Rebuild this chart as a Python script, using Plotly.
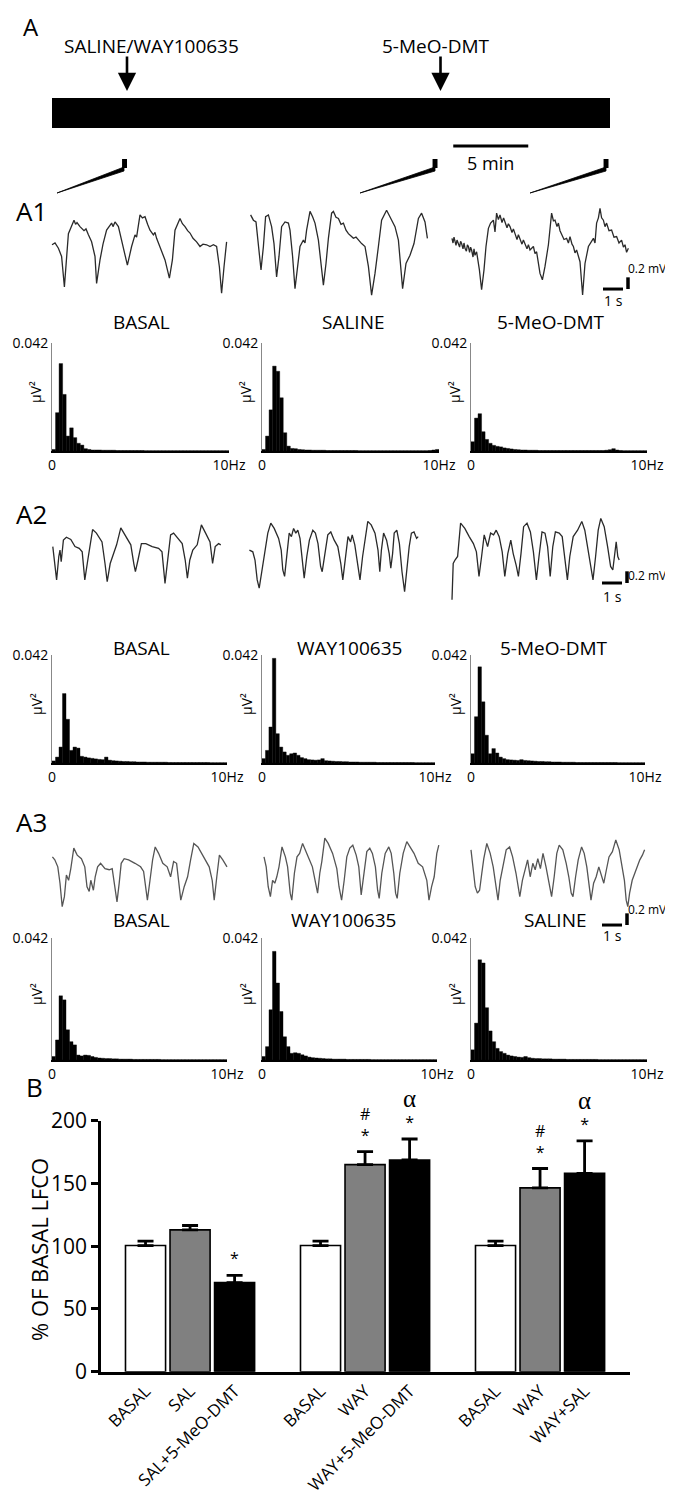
import plotly.graph_objects as go

W, H = 673, 1500          # target page size (px)
OFFSET = 8                # default page body margin of the browser
FIG_W, FIG_H = W - OFFSET, H - OFFSET
FONT = "Open Sans, Liberation Sans, Arial, sans-serif"
SERIF = "Liberation Serif, DejaVu Serif, serif"

# ---------------- DATA ----------------
# Panel A protocol timeline (minutes)
SESSION_MIN = 37.2
INJECTION_MIN = [5.0, 25.9]
INJECTION_LABELS = ["SALINE/WAY100635", "5-MeO-DMT"]
EPOCH_END_MIN = [5.0, 25.7, 37.1]
EPOCH_LEN_MIN = 0.33
TIME_SCALE_MIN = 5

# EEG traces: (time s, amplitude mV)
A1_BASAL = [(0.00,0.09),(0.15,0.12),(0.32,0.03),(0.48,-0.11),(0.62,-0.63),(0.82,0.28),(1.10,0.51),(1.18,0.44),(1.25,0.47),(1.40,0.40),
            (1.60,0.33),(1.70,0.36),(1.82,0.26),(1.98,0.14),(2.15,-0.11),(2.23,-0.57),(2.40,-0.17),(2.55,0.10),(2.73,0.34),(2.98,0.46),
            (3.05,0.40),(3.15,0.48),(3.32,0.40),(3.57,0.06),(3.77,-0.26),(3.98,0.06),(4.15,0.26),(4.23,0.22),(4.40,0.60),(4.52,0.55),
            (4.65,0.57),(4.78,0.44),(4.90,0.34),(5.07,0.26),(5.15,0.30),(5.23,0.20),(5.40,0.06),(5.65,-0.17),(5.87,-0.48),(6.02,-0.17),
            (6.15,0.34),(6.40,0.54),(6.52,0.45),(6.65,0.40),(6.78,0.33),(6.90,0.29),(7.05,0.20),(7.23,0.14),(7.40,0.06),(7.55,0.10),
            (7.73,0.09),(7.90,0.06),(8.07,0.09),(8.23,0.06),(8.37,-0.29),(8.48,-0.74),(8.60,-0.29),(8.73,0.14)]
A1_SALINE = [(0.03,0.60),(0.17,0.51),(0.30,0.48),(0.42,0.06),(0.55,-0.34),(0.67,0.06),(0.78,0.57),(0.92,0.60),(1.08,0.40),(1.20,0.11),
             (1.33,-0.46),(1.45,-0.11),(1.58,0.40),(1.75,0.48),(1.92,0.46),(2.00,0.34),(2.13,-0.11),(2.25,-0.66),(2.38,-0.28),(2.50,0.06),
             (2.67,0.17),(2.75,0.12),(2.83,0.34),(3.00,0.66),(3.13,0.57),(3.25,0.46),(3.42,0.17),(3.58,-0.28),(3.67,-0.60),(3.80,-0.23),
             (3.92,0.20),(4.08,0.63),(4.17,0.66),(4.30,0.56),(4.42,0.54),(4.55,0.44),(4.67,0.46),(4.80,0.34),(4.92,0.28),(5.05,0.24),
             (5.17,0.20),(5.30,0.22),(5.42,0.17),(5.58,0.11),(5.75,0.06),(5.92,-0.28),(6.08,-0.77),(6.25,-0.40),(6.42,0.06),(6.58,0.51),
             (6.83,0.68),(7.00,0.57),(7.12,0.50),(7.25,0.40),(7.42,0.17),(7.53,-0.28),(7.63,-0.66),(7.80,-0.23),(8.00,-0.09),(8.20,0.11),
             (8.42,0.54),(8.58,0.63),(8.75,0.48),(8.87,0.20)]
A1_DMT = [(0.00,0.20),(0.05,0.12),(0.10,0.22),(0.15,0.14),(0.20,0.08),(0.25,0.17),(0.32,0.09),(0.38,0.05),(0.43,0.15),(0.48,0.11),
          (0.55,0.02),(0.60,0.12),(0.65,0.03),(0.72,-0.02),(0.77,0.09),(0.82,0.06),(0.88,-0.04),(0.93,0.05),(0.98,0.00),(1.05,-0.12),
          (1.10,0.02),(1.15,-0.09),(1.23,-0.03),(1.37,-0.34),(1.48,-0.68),(1.60,-0.34),(1.70,0.06),(1.82,0.37),(1.93,0.46),(2.07,0.51),
          (2.15,0.31),(2.23,0.63),(2.32,0.52),(2.40,0.60),(2.50,0.47),(2.58,0.55),(2.65,0.48),(2.75,0.38),(2.82,0.45),(2.90,0.40),
          (3.00,0.30),(3.07,0.36),(3.15,0.28),(3.25,0.18),(3.32,0.26),(3.40,0.20),(3.50,0.10),(3.57,0.17),(3.65,0.11),(3.75,0.02),
          (3.82,0.09),(3.90,0.00),(4.07,0.06),(4.15,-0.06),(4.23,-0.03),(4.40,-0.40),(4.52,-0.51),(4.65,-0.28),(4.82,0.09),(4.90,0.35),
          (4.98,0.63),(5.07,0.50),(5.15,0.51),(5.25,0.40),(5.32,0.46),(5.40,0.33),(5.48,0.28),(5.60,0.18),(5.73,0.20),(5.82,0.12),
          (5.90,0.23),(6.00,0.10),(6.07,0.06),(6.15,-0.05),(6.23,0.00),(6.40,-0.20),(6.53,-0.77),(6.65,-0.23),(6.82,0.06),(6.95,0.14),
          (7.07,0.20),(7.15,0.12),(7.23,0.46),(7.32,0.55),(7.40,0.71),(7.48,0.55),(7.57,0.51),(7.65,0.40),(7.73,0.46),(7.85,0.33),
          (7.98,0.34),(8.10,0.22),(8.23,0.23),(8.35,0.12),(8.48,0.17),(8.57,0.05),(8.65,0.09),(8.73,-0.04),(8.82,0.03)]

A2_BASAL = [(0.04,0.23),(0.14,-0.11),(0.23,-0.34),(0.34,0.06),(0.40,0.17),(0.46,-0.03),(0.57,0.34),(0.72,0.39),(0.94,0.35),(1.15,0.23),
            (1.36,0.20),(1.51,0.14),(1.64,-0.34),(1.79,0.00),(1.90,0.28),(2.03,0.52),(2.22,0.46),(2.50,0.31),(2.65,-0.06),(2.76,-0.37),
            (2.91,-0.06),(3.08,0.11),(3.23,0.26),(3.44,0.55),(3.66,0.43),(3.94,0.26),(4.09,-0.06),(4.17,-0.20),(4.30,0.00),(4.47,0.28),
            (4.69,0.28),(5.01,0.23),(5.33,0.20),(5.50,0.14),(5.65,-0.40),(5.80,0.00),(5.93,0.43),(6.08,0.46),(6.30,0.37),(6.51,0.28),
            (6.66,0.00),(6.77,-0.31),(6.89,0.00),(7.04,0.17),(7.26,0.26),(7.47,0.60),(7.68,0.46),(7.90,0.31),(8.03,-0.06),(8.16,0.23),
            (8.33,0.28),(8.44,0.26)]
A2_WAY = [(0.02,0.17),(0.19,0.14),(0.30,0.00),(0.41,-0.34),(0.51,-0.48),(0.66,-0.17),(0.79,0.14),(0.94,0.46),(1.09,0.63),(1.26,0.54),
          (1.48,0.37),(1.61,0.17),(1.69,-0.17),(1.78,-0.28),(1.91,0.14),(2.01,0.46),(2.12,0.40),(2.23,0.54),(2.34,0.46),(2.44,0.51),
          (2.55,0.37),(2.66,0.06),(2.76,-0.31),(2.89,0.06),(3.02,0.34),(3.19,0.51),(3.32,0.46),(3.45,0.28),(3.58,-0.11),(3.66,-0.20),
          (3.79,0.11),(3.94,0.43),(4.09,0.48),(4.26,0.34),(4.44,0.23),(4.59,-0.06),(4.69,-0.34),(4.82,0.06),(4.95,0.40),(5.08,0.31),
          (5.16,0.43),(5.29,0.26),(5.42,-0.06),(5.55,-0.34),(5.68,0.06),(5.81,0.37),(5.94,0.66),(6.11,0.60),(6.30,0.46),(6.45,0.17),
          (6.54,-0.20),(6.62,0.17),(6.73,0.46),(6.88,0.34),(7.01,0.11),(7.09,-0.14),(7.18,0.11),(7.26,0.46),(7.39,0.51),(7.52,0.28),
          (7.65,-0.20),(7.78,-0.54),(7.91,-0.11),(8.01,0.23),(8.12,0.46),(8.25,0.48),(8.38,0.37),(8.46,0.40)]
A2_DMT = [(0.00,-0.68),(0.06,-0.06),(0.15,0.00),(0.28,0.06),(0.43,0.63),(0.64,0.54),(0.86,0.40),(1.07,0.28),(1.22,0.14),(1.35,-0.28),
          (1.48,0.06),(1.61,0.43),(1.78,0.23),(1.93,0.46),(2.08,0.43),(2.21,0.51),(2.36,0.40),(2.51,0.14),(2.64,-0.28),(2.79,0.11),
          (2.94,0.34),(3.06,0.11),(3.21,-0.09),(3.32,-0.28),(3.45,0.11),(3.58,0.57),(3.75,0.63),(3.92,0.48),(4.07,0.14),(4.22,-0.34),
          (4.35,0.06),(4.50,0.48),(4.65,0.46),(4.78,0.23),(4.91,-0.28),(5.04,0.23),(5.17,0.48),(5.36,0.46),(5.51,0.40),(5.64,0.00),
          (5.77,-0.34),(5.89,0.06),(6.06,0.40),(6.28,0.51),(6.49,0.66),(6.64,0.51),(6.79,0.17),(6.92,-0.11),(7.05,-0.34),(7.18,0.06),
          (7.31,0.51),(7.44,0.71),(7.61,0.57),(7.78,0.23),(7.93,-0.11),(8.04,-0.17),(8.14,0.17),(8.21,0.31),(8.29,0.06),(8.36,0.00)]

A3_BASAL = [(0.02,0.31),(0.14,0.26),(0.29,0.14),(0.40,-0.14),(0.51,-0.54),(0.62,-0.37),(0.72,0.00),(0.83,-0.09),(0.94,0.11),(1.09,0.46),
            (1.26,0.34),(1.47,0.28),(1.64,0.14),(1.75,-0.20),(1.86,-0.28),(1.94,-0.09),(2.07,-0.26),(2.16,-0.03),(2.28,0.14),(2.43,0.20),
            (2.65,0.11),(2.86,0.09),(3.01,0.11),(3.14,-0.20),(3.25,-0.46),(3.36,-0.14),(3.46,0.20),(3.61,0.28),(3.83,0.26),(4.15,0.20),
            (4.43,0.14),(4.58,0.06),(4.68,-0.26),(4.77,-0.43),(4.90,-0.09),(5.03,0.26),(5.16,0.48),(5.33,0.37),(5.54,0.20),(5.76,0.14),
            (5.93,-0.03),(6.08,0.23),(6.23,0.20),(6.36,-0.14),(6.44,-0.43),(6.61,-0.20),(6.78,-0.03),(6.93,0.26),(7.09,0.54),(7.30,0.48),
            (7.47,0.37),(7.68,0.26),(7.86,0.14),(8.01,-0.09),(8.11,-0.43),(8.24,-0.03),(8.37,0.34),(8.54,0.26),(8.71,0.17),(8.75,0.14)]
A3_WAY = [(0.00,0.31),(0.11,0.14),(0.21,-0.20),(0.32,-0.37),(0.43,-0.09),(0.54,-0.14),(0.64,-0.03),(0.75,0.14),(0.90,0.48),(1.07,0.31),
          (1.18,0.14),(1.31,-0.31),(1.39,-0.43),(1.52,0.03),(1.65,0.31),(1.78,0.37),(1.93,0.54),(2.08,0.43),(2.25,0.28),(2.42,0.14),
          (2.57,-0.09),(2.68,-0.31),(2.79,0.03),(2.89,0.23),(3.04,0.63),(3.21,0.54),(3.43,0.37),(3.64,0.11),(3.75,-0.20),(3.88,-0.43),
          (4.01,-0.09),(4.14,0.31),(4.29,0.46),(4.44,0.51),(4.61,0.34),(4.74,0.14),(4.86,-0.34),(4.99,0.03),(5.14,0.40),(5.29,0.46),
          (5.42,0.37),(5.57,0.14),(5.68,-0.26),(5.76,-0.40),(5.89,0.03),(6.06,0.37),(6.24,0.48),(6.36,0.37),(6.49,0.03),(6.58,-0.31),
          (6.66,-0.40),(6.79,0.03),(6.96,0.37),(7.14,0.57),(7.31,0.48),(7.50,0.37),(7.71,0.20),(7.93,0.14),(8.14,-0.09),(8.25,-0.43),
          (8.38,-0.20),(8.51,-0.03),(8.64,0.37),(8.74,0.51)]
A3_SALINE = [(0.00,0.43),(0.11,0.14),(0.21,-0.20),(0.32,-0.31),(0.43,-0.26),(0.54,0.03),(0.64,0.28),(0.79,0.54),(0.96,0.37),(1.11,0.14),
             (1.24,-0.14),(1.35,-0.43),(1.46,-0.09),(1.61,0.20),(1.76,0.43),(1.93,0.48),(2.08,0.31),(2.25,0.03),(2.36,-0.20),(2.44,-0.37),
             (2.57,-0.09),(2.70,0.09),(2.83,0.26),(2.96,-0.03),(3.09,0.20),(3.21,0.09),(3.34,0.28),(3.47,0.11),(3.60,0.37),(3.75,0.14),
             (3.90,-0.14),(4.03,-0.37),(4.16,-0.03),(4.29,0.37),(4.41,0.51),(4.59,0.43),(4.76,0.20),(4.89,-0.03),(5.01,-0.31),(5.10,-0.37),
             (5.23,-0.03),(5.36,0.26),(5.53,0.48),(5.66,0.37),(5.79,0.14),(5.91,-0.14),(6.00,-0.43),(6.13,-0.14),(6.26,-0.03),(6.39,0.14),
             (6.54,-0.03),(6.64,-0.14),(6.77,0.09),(6.90,0.31),(7.07,0.40),(7.24,0.60),(7.41,0.43),(7.54,0.14),(7.67,-0.09),(7.76,-0.43),
             (7.84,-0.54),(7.93,-0.31),(8.06,-0.09),(8.19,0.03),(8.31,0.14),(8.44,0.26),(8.57,0.34),(8.68,0.43)]

SCALE_S = 1.0
SCALE_MV = 0.2

# Power spectra: 0.2 Hz bins from 0 to 10 Hz (uV^2)
BIN_HZ = 0.2
A1_BASAL_PSD = [0.0006,0.0149,0.0340,0.0220,0.0058,0.0090,0.0052,0.0030,0.0023,0.0009,
                0.0006,0.0004,0.0004,0.0004,0.0003,0.0003,0.0003,0.0003,0.0002,0.0002,
                0.0002,0.0002,0.0002,0.0002,0.0002,0.0002,0.0001,0.0001,0.0001,0.0001,
                0.0001,0.0001,0.0001,0.0001,0.0001,0.0001,0.0001,0.0001,0.0001,0.0001,
                0.0001,0.0001,0.0001,0.0001,0.0001,0.0001,0.0001,0.0001,0.0001,0.0001]
A1_SALINE_PSD = [0.0006,0.0058,0.0160,0.0330,0.0310,0.0207,0.0071,0.0019,0.0010,0.0009,
                 0.0006,0.0005,0.0004,0.0004,0.0003,0.0003,0.0003,0.0003,0.0002,0.0002,
                 0.0002,0.0002,0.0002,0.0002,0.0002,0.0002,0.0002,0.0001,0.0001,0.0001,
                 0.0001,0.0001,0.0001,0.0001,0.0001,0.0001,0.0001,0.0001,0.0001,0.0001,
                 0.0001,0.0001,0.0001,0.0001,0.0001,0.0001,0.0001,0.0002,0.0004,0.0006]
A1_DMT_PSD = [0.0036,0.0128,0.0145,0.0075,0.0045,0.0030,0.0022,0.0018,0.0016,0.0012,
              0.0010,0.0008,0.0006,0.0005,0.0004,0.0004,0.0003,0.0003,0.0003,0.0002,
              0.0002,0.0002,0.0002,0.0002,0.0002,0.0002,0.0002,0.0002,0.0002,0.0002,
              0.0002,0.0002,0.0002,0.0002,0.0002,0.0002,0.0002,0.0002,0.0003,0.0005,
              0.0009,0.0004,0.0002,0.0001,0.0001,0.0001,0.0001,0.0001,0.0001,0.0001]
A2_BASAL_PSD = [0.0008,0.0023,0.0062,0.0270,0.0170,0.0049,0.0062,0.0058,0.0026,0.0023,
                0.0020,0.0018,0.0016,0.0014,0.0013,0.0023,0.0011,0.0009,0.0008,0.0007,
                0.0006,0.0006,0.0005,0.0005,0.0004,0.0004,0.0004,0.0003,0.0003,0.0003,
                0.0003,0.0003,0.0003,0.0002,0.0002,0.0002,0.0002,0.0002,0.0002,0.0002,
                0.0002,0.0002,0.0002,0.0002,0.0002,0.0001,0.0001,0.0001,0.0001,0.0001]
A2_WAY_PSD = [0.0017,0.0049,0.0140,0.0407,0.0114,0.0062,0.0043,0.0030,0.0036,0.0039,
              0.0030,0.0021,0.0017,0.0013,0.0012,0.0011,0.0012,0.0017,0.0009,0.0008,
              0.0007,0.0006,0.0006,0.0005,0.0005,0.0004,0.0004,0.0004,0.0003,0.0003,
              0.0003,0.0003,0.0003,0.0002,0.0002,0.0002,0.0002,0.0002,0.0002,0.0002,
              0.0002,0.0002,0.0002,0.0002,0.0001,0.0001,0.0001,0.0001,0.0001,0.0001]
A2_DMT_PSD = [0.0036,0.0180,0.0374,0.0238,0.0108,0.0036,0.0056,0.0039,0.0023,0.0017,
              0.0013,0.0012,0.0011,0.0010,0.0013,0.0010,0.0009,0.0008,0.0007,0.0006,
              0.0006,0.0005,0.0005,0.0004,0.0004,0.0004,0.0003,0.0003,0.0003,0.0003,
              0.0002,0.0002,0.0002,0.0002,0.0002,0.0002,0.0002,0.0002,0.0002,0.0002,
              0.0002,0.0002,0.0001,0.0001,0.0001,0.0001,0.0001,0.0001,0.0001,0.0001]
A3_BASAL_PSD = [0.0012,0.0069,0.0221,0.0207,0.0104,0.0063,0.0052,0.0017,0.0014,0.0017,
                0.0016,0.0012,0.0009,0.0007,0.0006,0.0005,0.0005,0.0004,0.0004,0.0003,
                0.0003,0.0003,0.0003,0.0002,0.0002,0.0002,0.0002,0.0002,0.0002,0.0002,
                0.0002,0.0001,0.0001,0.0001,0.0001,0.0001,0.0001,0.0001,0.0001,0.0001,
                0.0001,0.0001,0.0001,0.0001,0.0001,0.0001,0.0001,0.0001,0.0001,0.0001]
A3_WAY_PSD = [0.0012,0.0046,0.0173,0.0374,0.0265,0.0167,0.0080,0.0046,0.0023,0.0025,
              0.0023,0.0018,0.0014,0.0010,0.0008,0.0007,0.0006,0.0005,0.0004,0.0004,
              0.0003,0.0003,0.0003,0.0003,0.0002,0.0002,0.0002,0.0002,0.0002,0.0002,
              0.0002,0.0001,0.0001,0.0001,0.0001,0.0001,0.0001,0.0001,0.0001,0.0001,
              0.0001,0.0001,0.0001,0.0001,0.0001,0.0001,0.0001,0.0001,0.0001,0.0001]
A3_SALINE_PSD = [0.0035,0.0127,0.0345,0.0334,0.0180,0.0100,0.0063,0.0040,0.0029,0.0023,
                 0.0017,0.0014,0.0012,0.0010,0.0009,0.0012,0.0008,0.0006,0.0005,0.0005,
                 0.0004,0.0004,0.0004,0.0003,0.0003,0.0003,0.0003,0.0002,0.0002,0.0002,
                 0.0002,0.0002,0.0002,0.0002,0.0002,0.0002,0.0001,0.0001,0.0001,0.0001,
                 0.0001,0.0001,0.0001,0.0001,0.0001,0.0001,0.0001,0.0001,0.0001,0.0001]
PSD_MAX = 0.042

# Panel B: % of basal LFCO
B_LABELS = ["BASAL", "SAL", "SAL+5-MeO-DMT", "BASAL", "WAY", "WAY+5-MeO-DMT", "BASAL", "WAY", "WAY+SAL"]
B_MEAN = [100.5, 113, 71, 100.5, 165, 168.7, 100.5, 146.5, 158]
B_SEM = [3.5, 3.5, 5.8, 3.5, 10.4, 16.7, 3.5, 15.4, 26]
B_FILL = ["white", "#808080", "black", "white", "#808080", "black", "white", "#808080", "black"]
B_SIG_STAR = ["", "", "*", "", "*", "*", "", "*", "*"]
B_SIG_TOP = ["", "", "", "", "#", "α", "", "#", "α"]

# ---------------- LAYOUT HELPERS (page pixels -> paper fractions) ----------------
def fx(px):
    return (px - OFFSET) / FIG_W

def fy(py):
    return 1 - (py - OFFSET) / FIG_H

def xdom(a, b):
    return [fx(a), fx(b)]

def ydom(top, bottom):
    return [fy(bottom), fy(top)]

fig = go.Figure()
layout = {}
annotations = []
shapes = []

def ref(i):
    return ("x" if i == 1 else f"x{i}"), ("y" if i == 1 else f"y{i}")

def set_axes(i, xd, yd, xo, yo):
    xr, yr = ref(i)
    layout["xaxis" if i == 1 else f"xaxis{i}"] = dict(domain=xd, anchor=yr, fixedrange=True, automargin=False, **xo)
    layout["yaxis" if i == 1 else f"yaxis{i}"] = dict(domain=yd, anchor=xr, fixedrange=True, automargin=False, **yo)

def text(x, y, s, size, anchor="center", angle=0, family=FONT, xref="paper"):
    annotations.append(dict(x=x, y=y, xref=xref, yref="paper", text=s, showarrow=False,
                            xanchor=anchor, yanchor="middle", textangle=angle,
                            font=dict(size=size, color="black", family=family)))

hidden = dict(visible=False, showgrid=False, zeroline=False)

# ---------------- PANEL A: timeline ----------------
TL = 20
set_axes(TL, [0, 1], ydom(OFFSET, 200), dict(range=[-2.933, 41.4], **hidden), dict(range=[0, 1], **hidden))
txr, _ = ref(TL)
shapes.append(dict(type="rect", xref=txr, yref="paper", x0=0, x1=SESSION_MIN, y0=fy(128), y1=fy(98),
                   fillcolor="black", line=dict(width=0)))
shapes.append(dict(type="line", xref=txr, yref="paper", x0=26.75, x1=26.75 + TIME_SCALE_MIN, y0=fy(146), y1=fy(146),
                   line=dict(color="black", width=3)))
text(fx(490), fy(163), f"{TIME_SCALE_MIN} min", 18)
for t in EPOCH_END_MIN:
    shapes.append(dict(type="rect", xref=txr, yref="paper", x0=t - EPOCH_LEN_MIN, x1=t, y0=fy(168), y1=fy(159),
                       fillcolor="black", line=dict(width=0)))
for t, lab, tx in zip(INJECTION_MIN, INJECTION_LABELS, [151, 436]):
    annotations.append(dict(x=t, y=fy(91), xref=txr, yref="paper", text="", showarrow=True,
                            ax=0, ay=-36, arrowhead=2, arrowsize=1.4, arrowwidth=2.6, arrowcolor="black"))
    text(fx(tx), fy(46), lab, 19)
# stimulus wedges from epoch marks to traces
for (tipx, tipy), (bx, by) in zip([(57, 193), (360, 193), (530, 193)], [(124, 168), (435, 168), (606, 168)]):
    path = f"M {fx(tipx)},{fy(tipy)} L {fx(bx)},{fy(by - 1)} L {fx(bx)},{fy(by + 3)} Z"
    shapes.append(dict(type="path", xref="paper", yref="paper", path=path, fillcolor="black",
                       line=dict(color="black", width=0.8)))

text(fx(31), fy(26), "A", 24)

# ---------------- EEG traces ----------------
TRACE_ROWS = [
    dict(label="A1", lab_y=211, center=250, x0=[52, 250, 452], data=[A1_BASAL, A1_SALINE, A1_DMT], color="#2a2a2a"),
    dict(label="A2", lab_y=514, center=560, x0=[52, 249, 452], data=[A2_BASAL, A2_WAY, A2_DMT], color="#2a2a2a"),
    dict(label="A3", lab_y=822, center=875, x0=[52, 264, 471], data=[A3_BASAL, A3_WAY, A3_SALINE], color="#555555"),
]
# scale-bar anchors (time s, mV) within third trace of each row
SCALEBAR_ANCHOR = [(7.55, -0.667), (7.50, -0.393), (6.55, -0.855)]
SCALEBAR_TEXT = [((669, 268), (613, 300)), ((669, 575), (612, 596)), ((669, 910), (612, 935))]

ax_i = 1
for r, row in enumerate(TRACE_ROWS):
    text(fx(31), fy(row["lab_y"]), row["label"], 26)
    for k in range(3):
        x0 = row["x0"][k]
        set_axes(ax_i, xdom(x0 - 2, x0 + 180), ydom(row["center"] - 50, row["center"] + 55),
                 dict(range=[-0.1, 9.0], **hidden), dict(range=[-0.94, 0.855], **hidden))
        xr, yr = ref(ax_i)
        pts = row["data"][k]
        fig.add_trace(go.Scatter(x=[p[0] for p in pts], y=[p[1] for p in pts], mode="lines",
                                 line=dict(color=row["color"], width=1.3), xaxis=xr, yaxis=yr,
                                 hoverinfo="skip"))
        if k == 2:
            t0, v0 = SCALEBAR_ANCHOR[r]
            shapes.append(dict(type="line", xref=xr, yref=yr, x0=t0, x1=t0 + SCALE_S, y0=v0, y1=v0,
                               line=dict(color="black", width=3)))
            shapes.append(dict(type="line", xref=xr, yref=yr, x0=t0 + SCALE_S + 0.25, x1=t0 + SCALE_S + 0.25,
                               y0=v0, y1=v0 + SCALE_MV, line=dict(color="black", width=3.5)))
            (mx, my), (sx, sy) = SCALEBAR_TEXT[r]
            text(fx(mx), fy(my), f"{SCALE_MV} mV", 12, anchor="right")
            text(fx(sx), fy(sy), f"{SCALE_S:g} s", 14)
        ax_i += 1

# ---------------- Power spectra ----------------
HIST_ROWS = [
    dict(top=343, bottom=451, xs=[(52, 229), (262, 439), (471, 647)], data=[A1_BASAL_PSD, A1_SALINE_PSD, A1_DMT_PSD],
         titles=["BASAL", "SALINE", "5-MeO-DMT"], tx=[141, 353, 551], ty=322),
    dict(top=655, bottom=763, xs=[(52, 227), (262, 435), (471, 645)], data=[A2_BASAL_PSD, A2_WAY_PSD, A2_DMT_PSD],
         titles=["BASAL", "WAY100635", "5-MeO-DMT"], tx=[141, 349, 554], ty=648),
    dict(top=938, bottom=1060, xs=[(52, 227), (262, 437), (471, 647)], data=[A3_BASAL_PSD, A3_WAY_PSD, A3_SALINE_PSD],
         titles=["BASAL", "WAY100635", "SALINE"], tx=[141, 343, 555], ty=920),
]
for row in HIST_ROWS:
    for k in range(3):
        a, b = row["xs"][k]
        set_axes(ax_i, xdom(a, b), ydom(row["top"], row["bottom"]),
                 dict(range=[0, 10], showline=True, linecolor="black", linewidth=1.6, showgrid=False, zeroline=False,
                      tickvals=[0, 10], ticktext=["0", "10Hz"], ticks="", tickfont=dict(size=14, family=FONT, color="black")),
                 dict(range=[0, PSD_MAX], showline=True, linecolor="#888888", linewidth=1, showgrid=False, zeroline=False,
                      tickvals=[PSD_MAX], ticktext=[f"{PSD_MAX}"], ticks="", tickfont=dict(size=14, family=FONT, color="black")))
        xr, yr = ref(ax_i)
        vals = row["data"][k]
        fig.add_trace(go.Bar(x=[BIN_HZ * (i + 0.5) for i in range(len(vals))], y=vals, width=BIN_HZ,
                             marker=dict(color="black", line=dict(width=0.4, color="black")),
                             xaxis=xr, yaxis=yr, hoverinfo="skip"))
        text(fx(a - 16), fy((row["top"] + row["bottom"]) / 2 - 5), "μV²", 14, angle=-90)
        text(fx(row["tx"][k]), fy(row["ty"]), row["titles"][k], 19)
        ax_i += 1

# ---------------- Panel B ----------------
BI = 19
GROUP_STEP = 3.93
pos = [g * GROUP_STEP + j for g in range(3) for j in range(3)]
set_axes(BI, xdom(101, 630), ydom(1120.7, 1371.7),
         dict(range=[-1.0, 10.88], showline=True, linecolor="black", linewidth=2.5, showgrid=False, zeroline=False,
              tickvals=pos, ticktext=B_LABELS, tickangle=-45, ticks="",
              tickfont=dict(size=17, family=FONT, color="black")),
         dict(range=[0, 200], showline=True, linecolor="black", linewidth=2.5, showgrid=False, zeroline=False,
              tickvals=[0, 50, 100, 150, 200], ticks="outside", ticklen=7, tickwidth=2.5, tickcolor="black",
              tickfont=dict(size=21, family=FONT, color="black")))
bxr, byr = ref(BI)
fig.add_trace(go.Bar(x=pos, y=B_MEAN, width=0.9, xaxis=bxr, yaxis=byr, hoverinfo="skip",
                     marker=dict(color=B_FILL, line=dict(color="black", width=1.6)),
                     error_y=dict(type="data", symmetric=False, array=B_SEM, arrayminus=[0] * len(B_SEM),
                                  color="black", thickness=2.8, width=8)))
for p, m, s, star, top in zip(pos, B_MEAN, B_SEM, B_SIG_STAR, B_SIG_TOP):
    if not star:
        continue
    if top == "α":
        label = f"<span style='font-family:{SERIF};font-size:25px'>α</span><br>{star}"
    elif top:
        label = f"{top}<br>{star}"
    else:
        label = star
    annotations.append(dict(x=p, y=m + s, xref=bxr, yref=byr, text=label, showarrow=False,
                            yanchor="bottom", yshift=4, font=dict(size=16, family=FONT, color="black")))
text(fx(39), fy(1250), "% OF BASAL LFCO", 22, angle=-90)
text(fx(34), fy(1087), "B", 26)

fig.update_layout(width=FIG_W, height=FIG_H, margin=dict(l=0, r=0, t=0, b=0, pad=0, autoexpand=False), showlegend=False,
                  paper_bgcolor="white", plot_bgcolor="white", font=dict(family=FONT, color="black"),
                  annotations=annotations, shapes=shapes, **layout)
fig.write_html("out.html")
